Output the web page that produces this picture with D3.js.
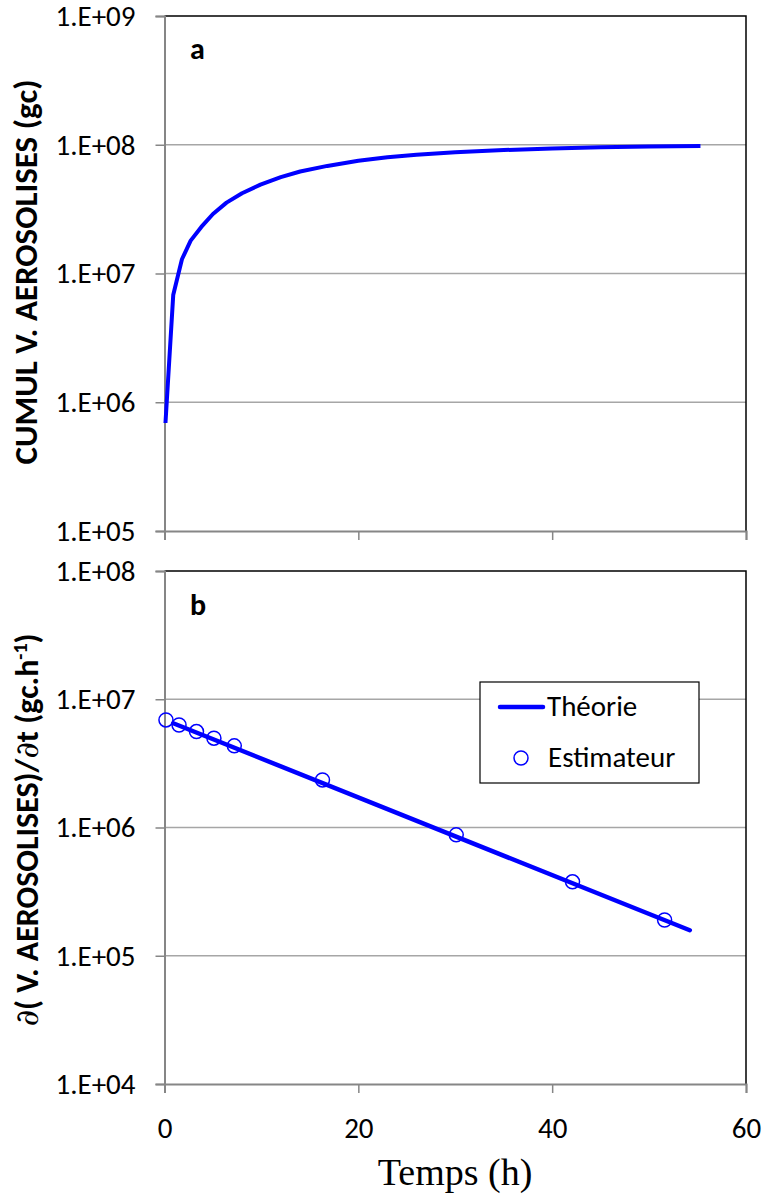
<!DOCTYPE html>
<html>
<head>
<meta charset="utf-8">
<title>aerosolises</title>
<script src="https://cdnjs.cloudflare.com/ajax/libs/d3/7.8.5/d3.min.js"></script>
<style>
  body { margin: 0; background: #fff; }
  text { font-family: Carlito, Lato, "Open Sans", sans-serif; fill: #000; }
</style>
</head>
<body>
<script>
// panel a : cumul (gc) en fonction du temps (h)
var cumulT = [0.1, 0.9, 1.8, 2.7, 3.8, 5, 6.4, 8, 9.9, 12, 14, 16.8, 20, 23, 26, 30, 35, 40, 45, 50, 55.3];
var cumulV = [6.9e5, 6.8e6, 1.29e7, 1.8e7, 2.3e7, 2.9e7, 3.55e7, 4.2e7, 4.9e7, 5.6e7, 6.2e7, 6.85e7,
              7.5e7, 8.0e7, 8.35e7, 8.75e7, 9.1e7, 9.35e7, 9.55e7, 9.7e7, 9.8e7];

// panel b : debit (gc/h)
var theoT = [0.9, 54.2];
var theoV = [6.5e6, 1.58e5];
var estT = [0.15, 1.5, 3.3, 5.1, 7.2, 16.3, 30.1, 42.1, 51.6];
var estV = [6.9e6, 6.3e6, 5.6e6, 4.97e6, 4.33e6, 2.35e6, 8.76e5, 3.77e5, 1.9e5];

var xTicks = [0, 20, 40, 60];
var yTicksA = [1e5, 1e6, 1e7, 1e8, 1e9];
var yTicksB = [1e4, 1e5, 1e6, 1e7, 1e8];

var W = 765, H = 1195;
var svg = d3.select("body").append("svg").attr("width", W).attr("height", H);

var x = d3.scaleLinear().domain([0, 60]).range([164.5, 746]);
var yA = d3.scaleLog().domain([1e5, 1e9]).range([531, 16]);
var yB = d3.scaleLog().domain([1e4, 1e8]).range([1084, 571]);

function fmt(v) { return "1.E+" + d3.format("02d")(Math.round(Math.log10(v))); }

function panel(y, ticks, showX) {
  var g = svg.append("g");
  var x0 = x.range()[0], x1 = x.range()[1];
  var y0 = y.range()[0], y1 = y.range()[1];
  // grille
  g.selectAll("line.grid").data(ticks.slice(1, -1)).enter().append("line")
    .attr("x1", x0).attr("x2", x1)
    .attr("y1", function(d) { return y(d); }).attr("y2", function(d) { return y(d); })
    .attr("stroke", "#a6a6a6").attr("stroke-width", 1.5);
  // cadre haut + droite
  g.append("path").attr("d", "M" + x0 + "," + y1 + "H" + x1 + "V" + y0)
    .attr("fill", "none").attr("stroke", "#000").attr("stroke-width", 1.5);
  // axe y
  var ay = g.append("g").attr("transform", "translate(" + x0 + ",0)")
    .call(d3.axisLeft(y).tickValues(ticks).tickFormat(fmt).tickSize(9).tickPadding(20));
  // axe x
  var ax = g.append("g").attr("transform", "translate(0," + y0 + ")")
    .call(d3.axisBottom(x).tickValues(xTicks).tickFormat(showX ? d3.format("d") : "").tickSize(9).tickPadding(24));
  [ay, ax].forEach(function(a) {
    a.select(".domain").attr("stroke", "#868686").attr("stroke-width", 2);
    a.selectAll(".tick line").attr("stroke", "#868686").attr("stroke-width", 1.5);
    a.selectAll("text").attr("font-size", 29).attr("fill", "#000")
      .style("font-family", "Carlito, Lato, 'Open Sans', sans-serif");
  });
  return g;
}

var gA = panel(yA, yTicksA, false);
var gB = panel(yB, yTicksB, true);

var lineA = d3.line().x(function(d) { return x(d[0]); }).y(function(d) { return yA(d[1]); });
gA.append("path").datum(d3.zip(cumulT, cumulV)).attr("d", lineA)
  .attr("fill", "none").attr("stroke", "#0000ff").attr("stroke-width", 4)
  .attr("stroke-linejoin", "round");

var lineB = d3.line().x(function(d) { return x(d[0]); }).y(function(d) { return yB(d[1]); });
gB.append("path").datum(d3.zip(theoT, theoV)).attr("d", lineB)
  .attr("fill", "none").attr("stroke", "#0000ff").attr("stroke-width", 4.5)
  .attr("stroke-linecap", "round");
gB.selectAll("circle.est").data(d3.zip(estT, estV)).enter().append("circle")
  .attr("cx", function(d) { return x(d[0]); }).attr("cy", function(d) { return yB(d[1]); })
  .attr("r", 7).attr("fill", "none").attr("stroke", "#0000ff").attr("stroke-width", 1.5);

// lettres des panneaux
svg.append("text").attr("x", 190).attr("y", 59).attr("font-size", 30).attr("font-weight", "bold").text("a");
svg.append("text").attr("x", 190).attr("y", 615).attr("font-size", 30).attr("font-weight", "bold").text("b");

// legende
var lg = svg.append("g");
lg.append("rect").attr("x", 480).attr("y", 682).attr("width", 219).attr("height", 101)
  .attr("fill", "#fff").attr("stroke", "#000").attr("stroke-width", 1.2);
lg.append("line").attr("x1", 500).attr("x2", 543).attr("y1", 707).attr("y2", 707)
  .attr("stroke", "#0000ff").attr("stroke-width", 4.5).attr("stroke-linecap", "round");
lg.append("text").attr("x", 547).attr("y", 716).attr("font-size", 29).text("Théorie");
lg.append("circle").attr("cx", 521).attr("cy", 758).attr("r", 7)
  .attr("fill", "none").attr("stroke", "#0000ff").attr("stroke-width", 1.5);
lg.append("text").attr("x", 548).attr("y", 767).attr("font-size", 29).text("Estimateur");

// titres
svg.append("text").attr("transform", "translate(37,272) rotate(-90)")
  .attr("text-anchor", "middle").attr("font-size", 33).attr("font-weight", "bold")
  .text("CUMUL V. AEROSOLISES (gc)");

var tb = svg.append("text").attr("transform", "translate(38,830) rotate(-90)")
  .attr("text-anchor", "middle").attr("font-size", 32).attr("font-weight", "bold");
tb.append("tspan").attr("font-weight", "normal").style("font-family", "'DejaVu Serif', serif").attr("font-style", "italic").text("∂");
tb.append("tspan").text("( V. AEROSOLISES)/");
tb.append("tspan").attr("font-weight", "normal").style("font-family", "'DejaVu Serif', serif").attr("font-style", "italic").text("∂");
tb.append("tspan").text("t (gc.h");
tb.append("tspan").attr("dy", -11).attr("font-size", 20).text("-1");
tb.append("tspan").attr("dy", 11).text(")");

svg.append("text").attr("x", 455).attr("y", 1185).attr("text-anchor", "middle")
  .attr("font-size", 38).style("font-family", "'Liberation Serif', 'Times New Roman', serif")
  .text("Temps (h)");
</script>
</body>
</html>
